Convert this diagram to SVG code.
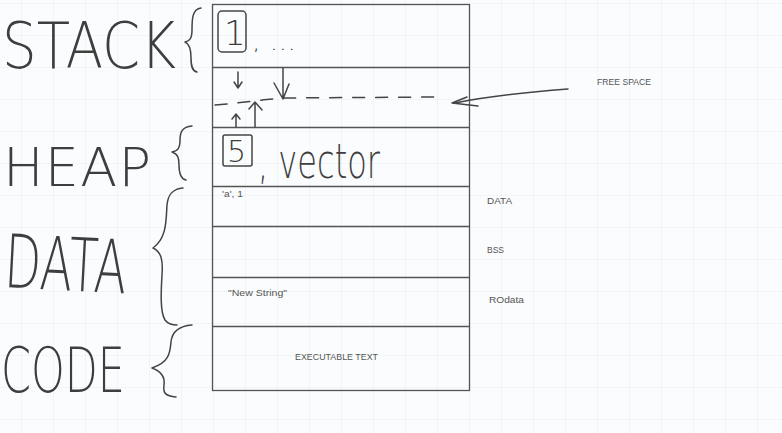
<svg xmlns="http://www.w3.org/2000/svg" width="782" height="433" viewBox="0 0 782 433">
<style>
.hw{font-family:'DejaVu Sans ExtraLight','DejaVu Sans',sans-serif;font-weight:200;fill:#3e3e3e}
.lbl{font-family:'Liberation Sans',Arial,sans-serif;font-size:9px;fill:#555}
.ink{fill:none;stroke:#444;stroke-width:1.5;stroke-linecap:round;stroke-linejoin:round}
.box{fill:none;stroke:#555;stroke-width:1.3}
</style>
<defs>
<pattern id="grid" x="21" y="3" width="32" height="32" patternUnits="userSpaceOnUse">
<path d="M0 0H32M0 0V32" fill="none" stroke="#e8edf0" stroke-width="1"/>
</pattern>
</defs>
<rect width="782" height="433" fill="#fafcfd"/>
<rect width="782" height="433" fill="url(#grid)"/>

<g id="memory">
<rect class="box" x="212.5" y="4.5" width="257" height="386"/>
<path class="box" d="M212.5 67.5H469.5M212.5 127.5H469.5M212.5 186.5H469.5M212.5 226.5H469.5M212.5 277.5H469.5M212.5 326.5H469.5"/>
</g>

<g id="stack">
<text class="hw" x="2" y="68" font-size="64" textLength="174" lengthAdjust="spacingAndGlyphs">STACK</text>
<path class="ink" d="M201 8 C192 9 192 20 192 30 C192 38 190 41 185 42 C190 44 191 50 191 58 C191 66 192 71 197 72"/>
<rect class="ink" x="218" y="11" width="28" height="41" rx="4"/>
<text class="hw" x="224" y="45" font-size="34">1</text>
<text class="hw" x="252" y="50" font-size="20" textLength="44" lengthAdjust="spacingAndGlyphs">, ...</text>
</g>

<g id="free-space">
<path class="ink" d="M215 105 C240 103 260 100 282 98 L440 97" stroke-dasharray="12 11"/>
<path class="ink" d="M238 72V87M234 82L238 88L242 82"/>
<path class="ink" d="M283 68V99M274 83L283 99L289 84"/>
<path class="ink" d="M236 127V115M232 119L236 114L240 119"/>
<path class="ink" d="M255 127V103M249 109L255 102L262 110"/>
<text class="lbl" x="597" y="85" textLength="54" lengthAdjust="spacingAndGlyphs">FREE SPACE</text>
</g>

<g id="heap">
<text class="hw" x="3" y="186" font-size="54" textLength="148" lengthAdjust="spacing">HEAP</text>
<path class="ink" d="M192 126 C182 127 180 132 180 140 C180 148 178 151 172 152 C178 154 179 158 179 165 C179 174 181 179 186 180"/>
<rect class="ink" x="223" y="135" width="29" height="31" rx="2"/>
<text class="hw" x="227" y="162" font-size="30">5</text>
<text class="hw" x="258" y="178" font-size="48" textLength="122" lengthAdjust="spacingAndGlyphs">, vector</text>
</g>

<g id="data">
<text class="hw" x="5" y="290" font-size="74" textLength="122" lengthAdjust="spacingAndGlyphs" transform="rotate(3 60 260)">DATA</text>
<path class="ink" d="M183 188 C172 189 168 195 167 205 C166 220 167 238 153 248 C162 252 163 262 162 275 C161 292 160 312 165 320 C168 324 173 325 177 325"/>
<text class="lbl" x="487" y="204" textLength="25" lengthAdjust="spacingAndGlyphs">DATA</text>
<text class="lbl" x="487" y="253" textLength="17" lengthAdjust="spacingAndGlyphs">BSS</text>
<text class="lbl" x="489" y="303" textLength="35" lengthAdjust="spacingAndGlyphs">ROdata</text>
<text class="lbl" x="222" y="197" font-size="8.5" textLength="21" lengthAdjust="spacingAndGlyphs">'a', 1</text>
<text class="lbl" x="228" y="296" textLength="59" lengthAdjust="spacingAndGlyphs">"New String"</text>
</g>

<g id="code">
<text class="hw" x="1" y="392" font-size="62" textLength="124" lengthAdjust="spacingAndGlyphs">CODE</text>
<path class="ink" d="M192 325 C178 326 172 332 171 342 C170 352 170 362 152 368 C163 372 165 378 164 385 C163 393 165 396 176 397"/>
<text class="lbl" x="295" y="360" textLength="83" lengthAdjust="spacingAndGlyphs">EXECUTABLE TEXT</text>
</g>

<g id="connectors">
<path class="ink" d="M568 89 C530 92 490 96 455 103"/>
<path class="ink" d="M467 97 L452 103 L478 106"/>
</g>
</svg>
